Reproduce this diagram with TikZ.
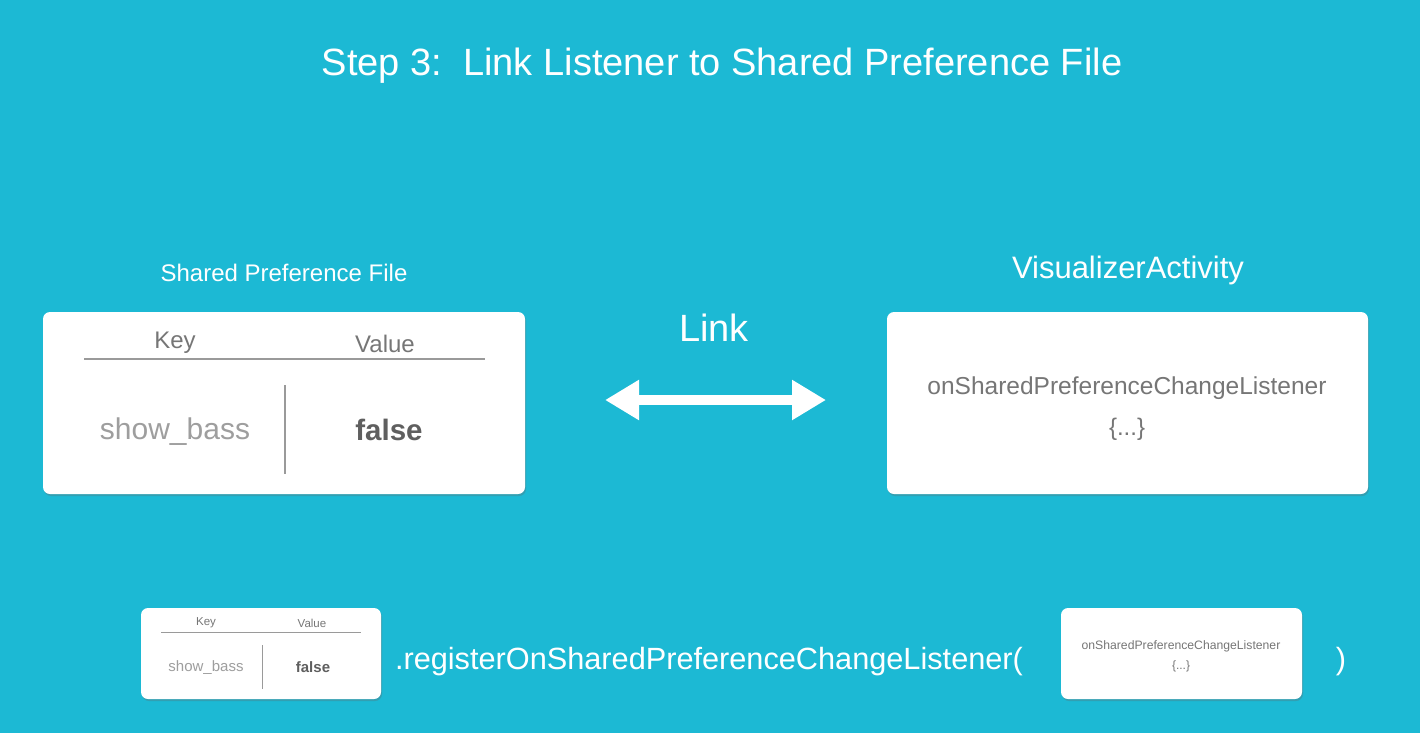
\documentclass[tikz,border=0pt]{standalone}
\usepackage{fontspec}
\setmainfont{Liberation Sans}
\usetikzlibrary{arrows.meta,shadows}
\definecolor{bg}{HTML}{1CB9D4}
\definecolor{keygray}{HTML}{767676}
\definecolor{lightgray}{HTML}{9E9E9E}
\definecolor{darkgray}{HTML}{5F5F5F}
\definecolor{rulegray}{HTML}{9A9A9A}
\tikzset{
  card/.style={fill=white, rounded corners=7pt, drop shadow={shadow xshift=1pt, shadow yshift=-2pt, opacity=0.3, fill=black!60}},
  wtext/.style={text=white, inner sep=0pt, anchor=center},
  gtext/.style={inner sep=0pt, anchor=center},
  rule/.style={draw=rulegray, line width=2pt},
  srule/.style={draw=rulegray, line width=1pt},
}
\begin{document}
\begin{tikzpicture}[x=1pt,y=-1pt]
\fill[bg] (0,0) rectangle (1420,733);
\useasboundingbox (0,0) rectangle (1420,733);

\node[wtext, font=\fontsize{38}{40}\selectfont] (title) at (722,66) {Step 3:\ \ Link Listener to Shared Preference File};

\node[wtext, font=\fontsize{24}{26}\selectfont] (splabel) at (284,273) {Shared Preference File};
\node[wtext, font=\fontsize{31}{33}\selectfont] (valabel) at (1128,270) {VisualizerActivity};

% left big card
\path[card] (43,312) rectangle (525,494);
\node[gtext, text=keygray, font=\fontsize{24}{26}\selectfont] (key) at (175,343) {Key};
\node[gtext, text=keygray, font=\fontsize{24}{26}\selectfont] (value) at (385,344) {Value};
\coordinate (hl1) at (84,359); \coordinate (hr1) at (485,359);
\draw[rule] (hl1) -- (hr1);
\coordinate (vt1) at (285,385); \coordinate (vb1) at (285,474);
\draw[rule] (vt1) -- (vb1);
\node[gtext, text=lightgray, font=\fontsize{30}{32}\selectfont] (sb) at (175,432) {show\_bass};
\node[gtext, text=darkgray, font=\fontsize{29.5}{32}\selectfont\bfseries] (fa) at (389,430) {false};

% link
\node[wtext, font=\fontsize{38}{40}\selectfont] (link) at (714,328) {Link};
\coordinate (al) at (605,400); \coordinate (ar) at (826,400);
\draw[white, line width=10pt, {Triangle[width=38pt,length=34pt]}-{Triangle[width=38pt,length=34pt]}] (al) -- (ar);

% right big card
\path[card] (887,312) rectangle (1368,494);
\node[gtext, text=keygray, font=\fontsize{24.5}{26}\selectfont] (osp) at (1127,388) {onSharedPreferenceChangeListener};
\node[gtext, text=keygray, font=\fontsize{24}{26}\selectfont] (dots) at (1127,429) {\{...\}};

% bottom row
\path[card] (141,608) rectangle (381,699);
\node[gtext, text=keygray, font=\fontsize{11.5}{12}\selectfont] (skey) at (206,623) {Key};
\node[gtext, text=keygray, font=\fontsize{11.5}{12}\selectfont] (sval) at (312,623) {Value};
\coordinate (hl2) at (161,632); \coordinate (hr2) at (361,632);
\draw[srule] (hl2) -- (hr2);
\coordinate (vt2) at (262,645); \coordinate (vb2) at (262,689);
\draw[srule] (vt2) -- (vb2);
\node[gtext, text=lightgray, font=\fontsize{15}{16}\selectfont] (ssb) at (206,668) {show\_bass};
\node[gtext, text=darkgray, font=\fontsize{15}{16}\selectfont\bfseries] (sfa) at (313,667) {false};

\node[wtext, font=\fontsize{30.7}{33}\selectfont] (reg) at (709,662) {.registerOnSharedPreferenceChangeListener(};

\path[card] (1061,608) rectangle (1302,699);
\node[gtext, text=keygray, font=\fontsize{12.2}{13}\selectfont] (sosp) at (1181,646) {onSharedPreferenceChangeListener};
\node[gtext, text=keygray, font=\fontsize{12}{13}\selectfont] (sdots) at (1181,666) {\{...\}};

\node[wtext, font=\fontsize{30.7}{33}\selectfont] (close) at (1341,662) {)};
\end{tikzpicture}
\end{document}
